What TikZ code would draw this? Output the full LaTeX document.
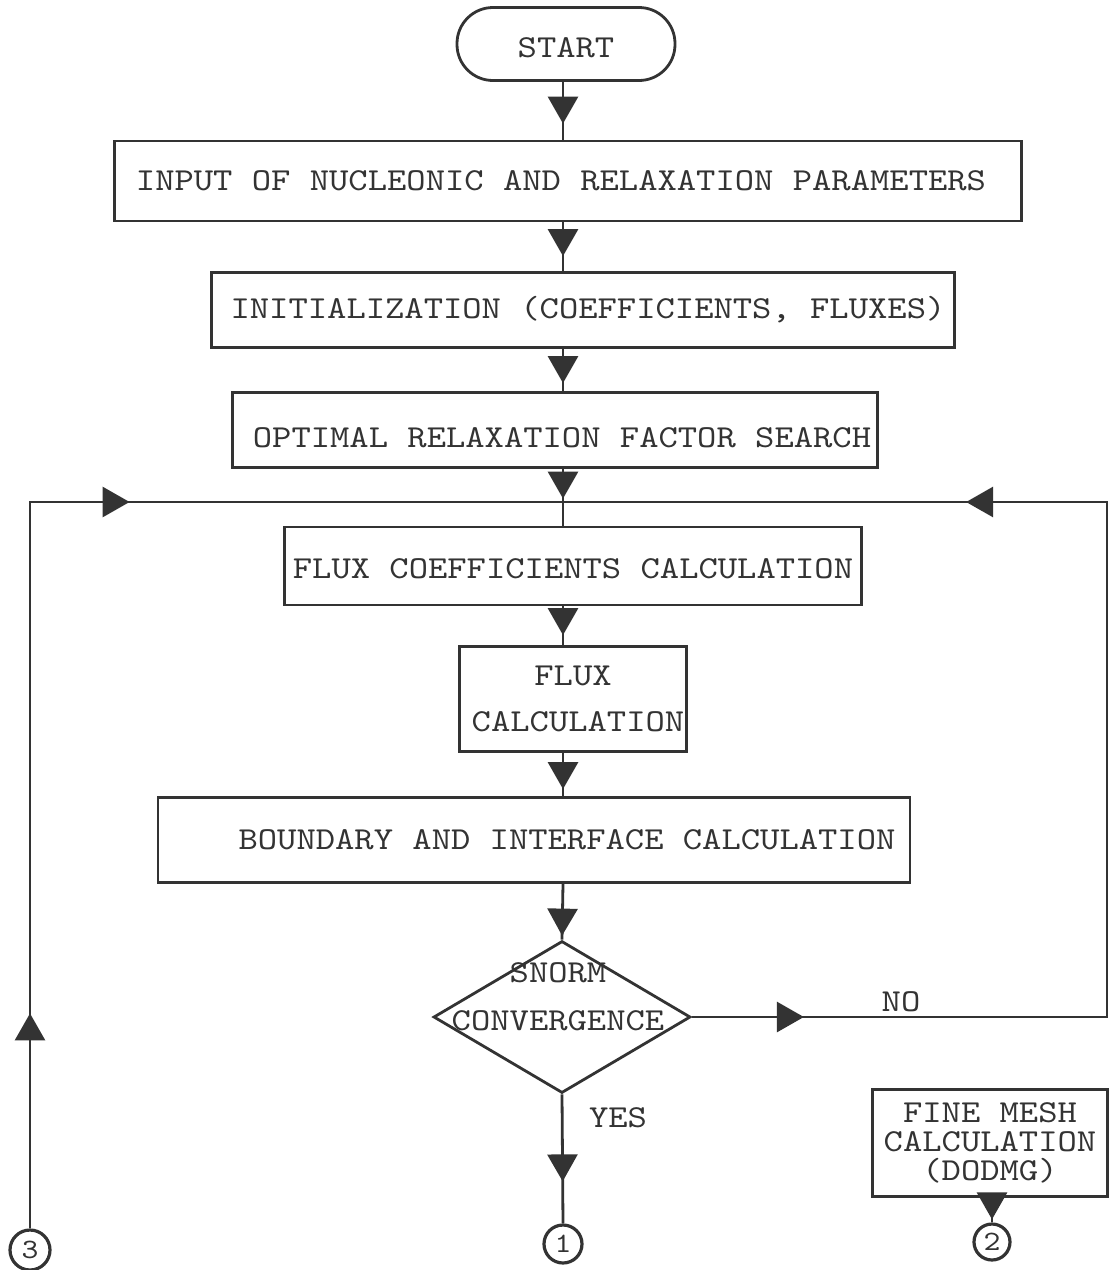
\documentclass[tikz,border=0pt]{standalone}
\usepackage{fontspec}
\newfontfamily\cour{lmmono10-regular}[Extension=.otf, FakeStretch=1.15]
\usetikzlibrary{shapes.geometric, arrows.meta, decorations.markings}
\tikzset{tri/.tip={Triangle[width=30pt,length=27pt]}}
\newcommand{\lowr}[2]{\raisebox{-#1}[\height][\depth]{#2}}
\begin{document}
\begin{tikzpicture}[x=1pt,y=-1pt,
  ink/.style={draw=black!80, line width=2.8pt},
  txt/.style={text=black!80, font=\cour\fontsize{32}{38}\selectfont, inner sep=0pt},
  box/.style={ink, txt, rectangle, inner sep=0pt},
  circ/.style={ink, line width=3.2pt, circle, inner sep=0pt, text=black!80, font=\cour\fontsize{28}{28}\selectfont},
  tipat/.style={decoration={markings, mark=at position #1 with {\arrow{tri}}}, postaction={decorate}},
]
\useasboundingbox (0,0) rectangle (1110,1270);
\coordinate (sp) at (563,0);
\coordinate (mainln) at (563,502);
\coordinate (rtop) at (1107,502);

\node[box, rounded corners=36pt, minimum width=218pt, minimum height=73pt] (start) at (566,44) {\lowr{4pt}{START}};
\node[box, minimum width=907pt, minimum height=80pt] (b1) at (568,181) {INPUT OF NUCLEONIC AND RELAXATION PARAMETERS\hspace*{14pt}};
\node[box, minimum width=743pt, minimum height=75pt] (b2) at (583,310) {\hspace*{10pt}INITIALIZATION (COEFFICIENTS, FLUXES)};
\node[box, minimum width=645pt, minimum height=75pt] (b3) at (555,430) {\hspace*{14pt}\lowr{8pt}{OPTIMAL RELAXATION FACTOR SEARCH}};
\node[box, minimum width=577pt, minimum height=78pt] (b4) at (573,566) {\lowr{3pt}{FLUX COEFFICIENTS CALCULATION}};
\node[box, align=center, font=\cour\fontsize{32}{48}\selectfont, minimum width=227pt, minimum height=105pt] (b5) at (573,699) {FLUX\\[-2pt]\hspace*{10pt}CALCULATION};
\node[box, minimum width=752pt, minimum height=85pt] (b6) at (534,840) {\hspace*{66pt}BOUNDARY AND INTERFACE CALCULATION};

\node[ink, diamond, minimum width=257pt, minimum height=152pt, inner sep=0pt] (dm) at (562,1017) {};
\node[txt] (snorm) at (558,973) {SNORM};
\node[txt] (conv) at (558,1021) {CONVERGENCE};
\node[txt] (yes) at (618,1118) {YES};
\node[txt] (no) at (901,1002) {NO};

\node[box, align=center, font=\cour\fontsize{32}{29}\selectfont, minimum width=235pt, minimum height=107pt] (fm) at (990,1143) {FINE MESH\\CALCULATION\\(DODMG)};

\node[circ, minimum size=38pt] (c1) at (563,1244) {1};
\node[circ, minimum size=36pt] (c2) at (992,1242) {2};
\node[circ, minimum size=40pt] (c3) at (30,1250) {3};

% main spine
\draw[ink, tipat=-16pt] (start.south -| sp) -- (b1.north -| sp);
\draw[ink, tipat=-15pt] (b1.south -| sp) -- (b2.north -| sp);
\draw[ink, tipat=-8pt] (b2.south -| sp) -- (b3.north -| sp);
\draw[ink, tipat=-27pt] (b3.south -| sp) -- (b4.north -| sp);
\draw[ink, tipat=-10pt] (b4.south -| sp) -- (b5.north -| sp);
\draw[ink, tipat=-7pt] (b5.south -| sp) -- (b6.north -| sp);
\draw[ink, tipat=-4pt] (b6.south -| sp) -- (dm.north);
\draw[ink, tipat=-42pt] (dm.south) -- (c1.north);
\draw[ink, tipat=-3pt] (fm.south -| c2) -- (c2.north);

% NO loop
\draw[ink, decoration={markings,
    mark=at position 112pt with {\arrow{tri}},
    mark=at position 1071pt with {\arrow{tri}}}, postaction={decorate}]
  (dm.east) -- (dm.east -| rtop) -- (rtop) -- (mainln);

% connector 3 loop
\draw[ink, decoration={markings,
    mark=at position 215pt with {\arrow{tri}},
    mark=at position 826pt with {\arrow{tri}}}, postaction={decorate}]
  (c3.north) -- (c3.north |- mainln) -- (mainln);
\end{tikzpicture}
\end{document}
